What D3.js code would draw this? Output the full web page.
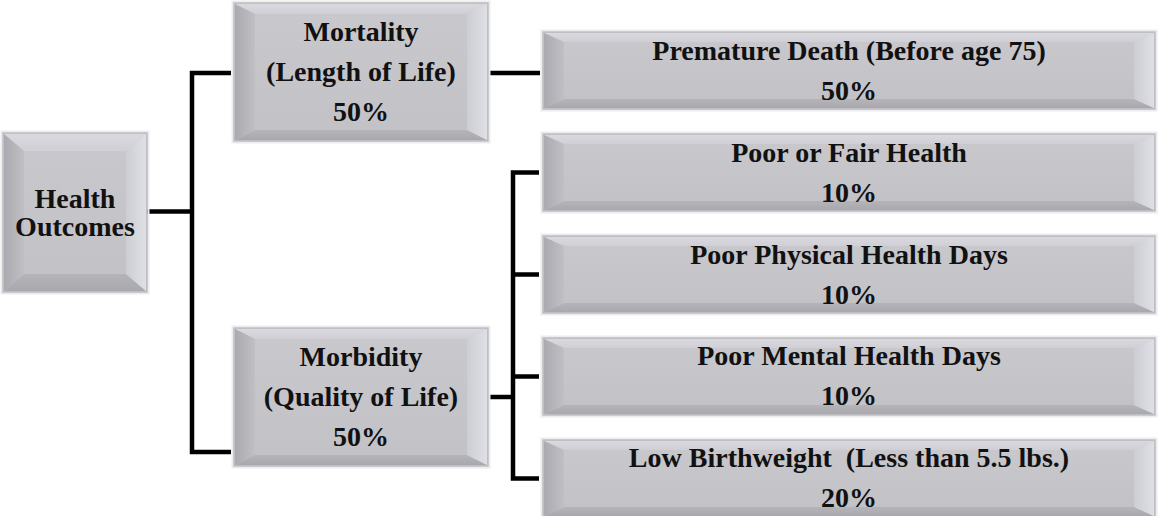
<!DOCTYPE html>
<html>
<head>
<meta charset="utf-8">
<script src="https://cdn.jsdelivr.net/npm/d3@7"></script>
<style>
  body { margin: 0; background: #fff; }
  svg { display: block; }
  .lbl { font-family: "Liberation Serif", "DejaVu Serif", serif; font-weight: bold; fill: #111; }
</style>
</head>
<body>
<div id="chart"></div>
<script>
// tree data
var rootLines = ["Health", "Outcomes"];
var groupNames = ["Mortality", "Morbidity"];
var groupSubs = ["(Length of Life)", "(Quality of Life)"];
var groupWeights = ["50%", "50%"];
var measureNames = ["Premature Death (Before age 75)", "Poor or Fair Health", "Poor Physical Health Days",
    "Poor Mental Health Days", "Low Birthweight  (Less than 5.5 lbs.)"];
var measureWeights = ["50%", "10%", "10%", "10%", "20%"];
var measureParent = [0, 1, 1, 1, 1];

var W = 1158, H = 516;
var svg = d3.select("#chart").append("svg")
    .attr("width", W)
    .attr("height", H);

var defs = svg.append("defs");
function grad(id, x2, y2, c1, c2) {
    var g = defs.append("linearGradient").attr("id", id)
        .attr("x1", 0).attr("y1", 0).attr("x2", x2).attr("y2", y2);
    g.append("stop").attr("offset", "0%").attr("stop-color", c1);
    g.append("stop").attr("offset", "100%").attr("stop-color", c2);
}
grad("gFace", 0, 1, "#c8c8cd", "#c1c1c6");
grad("gLeft", 1, 0, "#aaaab0", "#bfbfc4");
grad("gRight", 1, 0, "#cdcdd4", "#dfdfe6");
grad("gTop", 0, 1, "#d9d9df", "#cfcfd5");
grad("gBot", 0, 1, "#b4b4b9", "#a8a8ae");

// columns
var xCol = d3.scaleOrdinal().domain([0, 1, 2]).range([3, 234, 543]);
var wCol = d3.scaleOrdinal().domain([0, 1, 2]).range([144, 254, 612]);

var yMeasure = d3.scaleBand()
    .domain(d3.range(measureNames.length))
    .range([32, 517])
    .paddingInner(0.245);
var yGroup = d3.scaleOrdinal().domain([0, 1]).range([3, 328]);
var groupH = 138;
var rootBox = {x: xCol(0), y: 133, w: wCol(0), h: 159};

var boxes = [];
boxes.push({x: rootBox.x, y: rootBox.y, w: rootBox.w, h: rootBox.h, lines: rootLines, gap: 28, by: 17});
groupNames.forEach(function (n, i) {
    boxes.push({x: xCol(1), y: yGroup(i), w: wCol(1), h: groupH,
        lines: [n, groupSubs[i], groupWeights[i]], gap: 40, by: 10});
});
measureNames.forEach(function (n, i) {
    boxes.push({x: xCol(2), y: yMeasure(i), w: wCol(2), h: yMeasure.bandwidth(),
        lines: [n, measureWeights[i]], gap: 40, by: 9});
});

// connectors
var link = svg.append("g")
    .attr("fill", "none")
    .attr("stroke", "#000")
    .attr("stroke-width", 4.5)
    .attr("stroke-linejoin", "miter");

var rootMidY = rootBox.y + rootBox.h / 2 - 1;
var spineX1 = 192;
var joinY = [yGroup(0) + groupH / 2 + 1, yGroup(1) + groupH - 14];
link.append("path")
    .attr("d", "M" + (rootBox.x + rootBox.w) + "," + rootMidY + "H" + spineX1);
link.append("path")
    .attr("d", "M" + (xCol(1) - 3) + "," + joinY[0] + "H" + spineX1 + "V" + joinY[1] + "H" + (xCol(1) - 3));

// mortality -> premature death
link.append("path")
    .attr("d", "M" + (xCol(1) + wCol(1) + 1) + "," + joinY[0] + "H" + (xCol(2) - 3));

// morbidity -> its measures
var kids = d3.range(measureNames.length).filter(function (i) { return measureParent[i] === 1; });
var spineX2 = 513;
var morbMid = yGroup(1) + groupH / 2;
var kidY = kids.map(function (i) { return yMeasure(i) + yMeasure.bandwidth() / 2; });
link.append("path")
    .attr("d", "M" + (xCol(1) + wCol(1) + 1) + "," + morbMid + "H" + spineX2);
link.append("path")
    .attr("d", "M" + (xCol(2) - 4) + "," + kidY[0] + "H" + spineX2 + "V" + kidY[kidY.length - 1] + "H" + (xCol(2) - 4));
kidY.slice(1, -1).forEach(function (y) {
    link.append("path").attr("d", "M" + spineX2 + "," + y + "H" + (xCol(2) - 4));
});

// beveled boxes
var bx = 20;
var g = svg.selectAll("g.box").data(boxes).enter().append("g").attr("class", "box");
g.append("rect")
    .attr("x", function (d) { return d.x - 1.5; })
    .attr("y", function (d) { return d.y - 1.5; })
    .attr("width", function (d) { return d.w + 3; })
    .attr("height", function (d) { return d.h + 3; })
    .attr("fill", "none")
    .attr("stroke", "#ececee")
    .attr("stroke-width", 2);
g.append("rect")
    .attr("x", function (d) { return d.x; })
    .attr("y", function (d) { return d.y; })
    .attr("width", function (d) { return d.w; })
    .attr("height", function (d) { return d.h; })
    .attr("fill", "url(#gFace)")
    .attr("stroke", "#bdbdc1")
    .attr("stroke-width", 1.5);
function poly(d, side) {
    var x0 = d.x + 1, y0 = d.y + 1, x1 = d.x + d.w - 1, y1 = d.y + d.h - 1, by = d.by;
    var p;
    if (side === "top") p = [[x0, y0], [x1, y0], [x1 - bx, y0 + by], [x0 + bx, y0 + by]];
    if (side === "bot") p = [[x0, y1], [x1, y1], [x1 - bx, y1 - by], [x0 + bx, y1 - by]];
    if (side === "left") p = [[x0, y0], [x0 + bx, y0 + by], [x0 + bx, y1 - by], [x0, y1]];
    if (side === "right") p = [[x1, y0], [x1 - bx, y0 + by], [x1 - bx, y1 - by], [x1, y1]];
    return p.map(function (q) { return q.join(","); }).join(" ");
}
[["top", "url(#gTop)"], ["bot", "url(#gBot)"], ["left", "url(#gLeft)"], ["right", "url(#gRight)"]].forEach(function (s) {
    g.append("polygon")
        .attr("points", function (d) { return poly(d, s[0]); })
        .attr("fill", s[1]);
});

// labels
g.each(function (d) {
    var cx = d.x + d.w / 2, cy = d.y + d.h / 2 + 9;
    var n = d.lines.length;
    d3.select(this).selectAll("text.lbl").data(d.lines).enter().append("text")
        .attr("class", "lbl")
        .attr("x", cx)
        .attr("y", function (t, i) { return cy + (i - (n - 1) / 2) * d.gap; })
        .attr("text-anchor", "middle")
        .style("font-size", "28px")
        .style("white-space", "pre")
        .text(function (t) { return t; });
});
</script>
</body>
</html>
